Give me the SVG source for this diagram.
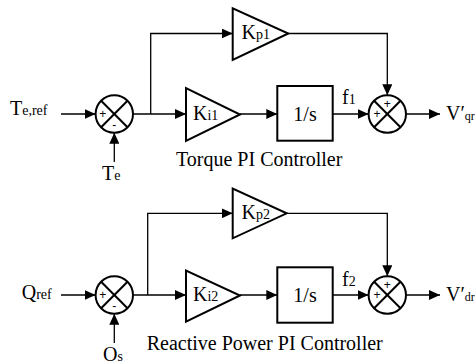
<svg xmlns="http://www.w3.org/2000/svg" width="475" height="364" viewBox="0 0 475 364">
<defs>
<marker id="ah" markerUnits="userSpaceOnUse" markerWidth="12" markerHeight="10" refX="11" refY="5" orient="auto">
<path d="M0,0 L11,5 L0,10 Z" fill="#000"/>
</marker>
</defs>
<style>
.blk{fill:#fff;stroke:#000;stroke-width:2}
.ln{fill:none;stroke:#000;stroke-width:1.3}
.x{stroke:#000;stroke-width:2}
text{font-family:"Liberation Serif","Times New Roman",serif;fill:#000}
.t{font-size:20px}
.s{font-size:14px}
.v{font-size:12px}
.sg{font-size:12px;font-family:"Liberation Sans",Arial,sans-serif}
</style>
<rect width="475" height="364" fill="#fff"/>
<g id="connectors">
<line class="ln" x1="61" y1="114" x2="95.6" y2="114" marker-end="url(#ah)"/>
<line class="ln" x1="114.3" y1="162" x2="114.3" y2="132.7" marker-end="url(#ah)"/>
<line class="ln" x1="133" y1="114" x2="186" y2="114" marker-end="url(#ah)"/>
<polyline class="ln" points="150.7,114 150.7,33.5 232.7,33.5" marker-end="url(#ah)"/>
<line class="ln" x1="240" y1="114" x2="277.3" y2="114" marker-end="url(#ah)"/>
<line class="ln" x1="332.7" y1="114" x2="368.6" y2="114" marker-end="url(#ah)"/>
<polyline class="ln" points="288.3,33.5 387.3,33.5 387.3,95.3" marker-end="url(#ah)"/>
<line class="ln" x1="406" y1="114" x2="440" y2="114" marker-end="url(#ah)"/>
<line class="ln" x1="61" y1="295" x2="95.6" y2="295" marker-end="url(#ah)"/>
<line class="ln" x1="114.3" y1="343" x2="114.3" y2="313.7" marker-end="url(#ah)"/>
<line class="ln" x1="133" y1="295" x2="186" y2="295" marker-end="url(#ah)"/>
<polyline class="ln" points="147.7,295 147.7,213.3 232.7,213.3" marker-end="url(#ah)"/>
<line class="ln" x1="240" y1="295" x2="277.3" y2="295" marker-end="url(#ah)"/>
<line class="ln" x1="332.7" y1="295" x2="368.6" y2="295" marker-end="url(#ah)"/>
<polyline class="ln" points="286.7,213.3 387.3,213.3 387.3,276.3" marker-end="url(#ah)"/>
<line class="ln" x1="406" y1="295" x2="440" y2="295" marker-end="url(#ah)"/>
</g>
<g id="sum1">
<circle class="blk" cx="114.3" cy="114" r="18.7"/>
<line class="x" x1="101.1" y1="100.8" x2="127.5" y2="127.2"/>
<line class="x" x1="127.5" y1="100.8" x2="101.1" y2="127.2"/>
<text class="sg" x="102.7" y="118" text-anchor="middle">+</text>
<text class="sg" x="114.3" y="129" text-anchor="middle">-</text>
</g>
<g id="kp1">
<polygon class="blk" points="232.7,8.3 232.7,60 288.3,33.5"/>
<text class="t" x="241.5" y="39">K<tspan class="s">p1</tspan></text>
</g>
<g id="ki1">
<polygon class="blk" points="186,88 186,141 240,114.5"/>
<text class="t" x="193" y="120">K<tspan class="s">i1</tspan></text>
</g>
<g id="int1">
<rect class="blk" x="277.3" y="86" width="55.4" height="54.7"/>
<text class="t" x="305" y="120.5" text-anchor="middle">1/s</text>
</g>
<g id="sum2">
<circle class="blk" cx="387.3" cy="114" r="18.7"/>
<line class="x" x1="374.1" y1="100.8" x2="400.5" y2="127.2"/>
<line class="x" x1="400.5" y1="100.8" x2="374.1" y2="127.2"/>
<text class="sg" x="387.3" y="108" text-anchor="middle">+</text>
<text class="sg" x="377" y="118" text-anchor="middle">+</text>
</g>
<g id="sum3">
<circle class="blk" cx="114.3" cy="295" r="18.7"/>
<line class="x" x1="101.1" y1="281.8" x2="127.5" y2="308.2"/>
<line class="x" x1="127.5" y1="281.8" x2="101.1" y2="308.2"/>
<text class="sg" x="102.7" y="299" text-anchor="middle">+</text>
<text class="sg" x="114.3" y="310" text-anchor="middle">-</text>
</g>
<g id="kp2">
<polygon class="blk" points="232.7,188.5 232.7,238.3 286.7,213.3"/>
<text class="t" x="241.5" y="219">K<tspan class="s">p2</tspan></text>
</g>
<g id="ki2">
<polygon class="blk" points="186,270.5 186,321.7 240,295.5"/>
<text class="t" x="193" y="301">K<tspan class="s">i2</tspan></text>
</g>
<g id="int2">
<rect class="blk" x="277.3" y="267.3" width="55.4" height="55.4"/>
<text class="t" x="305" y="301.5" text-anchor="middle">1/s</text>
</g>
<g id="sum4">
<circle class="blk" cx="387.3" cy="295" r="18.7"/>
<line class="x" x1="374.1" y1="281.8" x2="400.5" y2="308.2"/>
<line class="x" x1="400.5" y1="281.8" x2="374.1" y2="308.2"/>
<text class="sg" x="387.3" y="289" text-anchor="middle">+</text>
<text class="sg" x="377" y="299" text-anchor="middle">+</text>
</g>
<g id="labels">
<text class="t" x="10" y="115">T<tspan class="s">e,ref</tspan></text>
<text class="t" x="102" y="180">T<tspan class="s">e</tspan></text>
<text class="t" x="342" y="104">f<tspan class="s">1</tspan></text>
<text class="t" x="446" y="120">V′<tspan class="v">qr</tspan></text>
<text class="t" x="176" y="166">Torque PI Controller</text>
<text class="t" x="21.7" y="299">Q<tspan class="s">ref</tspan></text>
<text class="t" x="103" y="361">O<tspan class="s">s</tspan></text>
<text class="t" x="342" y="286">f<tspan class="s">2</tspan></text>
<text class="t" x="446" y="301">V′<tspan class="v">dr</tspan></text>
<text class="t" x="146.7" y="350">Reactive Power PI Controller</text>
</g>
</svg>
